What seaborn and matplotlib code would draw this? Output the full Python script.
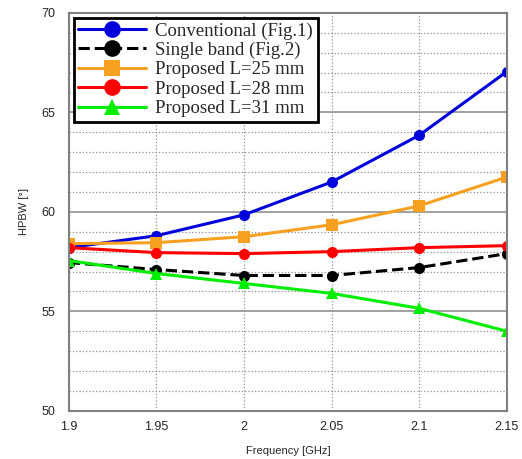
import numpy as np
import pandas as pd
import seaborn as sns
from matplotlib import pyplot as plt
from matplotlib.ticker import MultipleLocator

freq = [1.9, 1.95, 2.0, 2.05, 2.1, 2.15]
conventional = [58.2, 58.8, 59.85, 61.5, 63.85, 67.05]
single_band = [57.45, 57.1, 56.8, 56.8, 57.2, 57.9]
prop_25 = [58.4, 58.45, 58.75, 59.35, 60.3, 61.75]
prop_28 = [58.2, 57.95, 57.9, 58.0, 58.2, 58.3]
prop_31 = [57.55, 56.9, 56.4, 55.9, 55.15, 54.0]

labels = ["Conventional (Fig.1)", "Single band (Fig.2)",
          "Proposed L=25 mm", "Proposed L=28 mm", "Proposed L=31 mm"]
series = [conventional, single_band, prop_25, prop_28, prop_31]
colors = ["#0000dd", "#000000", "#f8a020", "#ff0000", "#00ee00"]
markers = ["o", "o", "s", "o", "^"]
dashed = [False, True, False, False, False]

sns.set_style("white")
plt.rcParams["font.family"] = ["Liberation Sans", "DejaVu Sans"]

fig = plt.figure(figsize=(5.22, 4.59), dpi=100)
ax = fig.add_axes([0.132, 0.105, 0.839, 0.867])

for lab, vals, c, m, d in zip(labels, series, colors, markers, dashed):
    df = pd.DataFrame({"freq": freq, "hpbw": vals})
    sns.lineplot(data=df, x="freq", y="hpbw", ax=ax, color=c, marker=m,
                 markersize=8, markeredgewidth=0, linewidth=2.2,
                 label=lab, linestyle="--" if d else "-")

ax.set_xlim(1.9, 2.15)
ax.set_ylim(50, 70)
ax.yaxis.set_major_locator(MultipleLocator(5))
ax.yaxis.set_minor_locator(MultipleLocator(1))
ax.set_xticks(freq)
ax.set_xticklabels(["1.9", "1.95", "2", "2.05", "2.1", "2.15"])
ax.grid(True, which="major", axis="y", color="#909090", linewidth=1.2)
ax.grid(True, which="minor", axis="y", color="#909090", linestyle=":", linewidth=0.9)
ax.grid(True, which="major", axis="x", color="#909090", linestyle=":", linewidth=0.9)
ax.tick_params(axis="y", which="both", length=0, labelsize=9, pad=10)
ax.tick_params(axis="x", which="both", length=0, labelsize=9, pad=7)
for sp in ax.spines.values():
    sp.set_color("#808080")
    sp.set_linewidth(1.5)

ax.set_xlabel("Frequency [GHz]", fontsize=8, labelpad=10)
ax.set_ylabel("HPBW [°]", fontsize=8, labelpad=9)

leg = ax.legend(loc="upper left", prop={"family": "Liberation Serif", "size": 13.5},
                handlelength=3.6, markerscale=1.5, borderaxespad=0.25,
                labelspacing=0.12, handletextpad=0.5, fancybox=False,
                framealpha=1, borderpad=0.25)
leg.get_frame().set_edgecolor("black")
leg.get_frame().set_linewidth(2)

fig.savefig("out.png", dpi=100)
